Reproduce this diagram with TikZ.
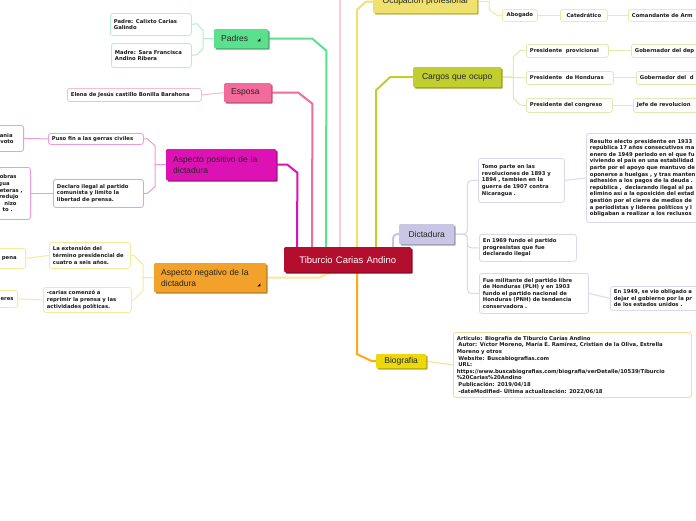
\documentclass[tikz,border=0pt]{standalone}
\usepackage{fontspec}
\usepackage{xcolor}
\usepackage{tikz}
\usetikzlibrary{shadows}

\newfontfamily\topicface{Liberation Sans}
\newfontfamily\leafface{DejaVu Sans}
\newcommand\topicfont{\topicface\fontsize{8.5}{11}\selectfont}
\newcommand\rootfont{\topicface\fontsize{9.5}{12}\selectfont}
\newcommand\leaffont{\leafface\bfseries\fontsize{5.3}{6.6}\selectfont\hyphenpenalty=10000 \exhyphenpenalty=10000 }

\definecolor{cRoot}{HTML}{B40E2E}
\definecolor{cGreen}{HTML}{5BE08D}
\definecolor{cGreenL}{HTML}{B4F0CC}
\definecolor{cPink}{HTML}{F26B9C}
\definecolor{cPinkL}{HTML}{F8BCD2}
\definecolor{cMag}{HTML}{DC12B4}
\definecolor{cMagL}{HTML}{EE9ADC}
\definecolor{cRose}{HTML}{F9CCE0}
\definecolor{cOrange}{HTML}{F2A12B}
\definecolor{cOrangeL}{HTML}{F6DC9A}
\definecolor{cAmber}{HTML}{FFA81E}
\definecolor{cYellow}{HTML}{F0E16E}
\definecolor{cYellowL}{HTML}{F6E99A}
\definecolor{cOlive}{HTML}{C2CD30}
\definecolor{cOliveL}{HTML}{E2E8AE}
\definecolor{cLav}{HTML}{C9C5E5}
\definecolor{cLavL}{HTML}{DAD8EC}
\definecolor{cGold}{HTML}{EBD90E}

\pgfdeclarelayer{bg}
\pgfsetlayers{bg,main}

\begin{document}
\begin{tikzpicture}[
  x=1pt, y=-1pt,
  topic/.style={fill=#1, anchor=north west, font=\topicfont, text=black!85, inner xsep=7pt, inner ysep=0pt, rounded corners=1pt,
    drop shadow={shadow xshift=1.5pt, shadow yshift=-1.5pt, opacity=1, fill=#1!80!black}},
  leaf/.style={draw=#1, fill=white, anchor=north west, align=left, font=\leaffont, text=black!90, inner xsep=3.5pt, inner ysep=1pt, rounded corners=2.5pt, line width=0.8pt},
  trunk/.style={draw=#1, line width=2pt},
  twig/.style={draw=#1, line width=1pt}
]
\useasboundingbox (0,0) rectangle (696,520);
\clip (0,0) rectangle (696,520);

% centre and main topics
\node[topic=cRoot, text=white, font=\rootfont, text width=113pt, align=center, minimum height=25pt] (root) at (284,247) {Tiburcio Carias Andino};
\node[topic=cGreen, text width=40pt, align=left, minimum height=19pt] (padres) at (214,29) {Padres};
\node[topic=cPink, text width=33pt, align=left, minimum height=19pt] (esposa) at (224,83) {Esposa};
\node[topic=cMag, text width=96pt, align=left, minimum height=31pt] (positivo) at (166,149) {Aspecto positivo de la\\dictadura};
\node[topic=cOrange, text width=98pt, align=left, minimum height=29pt] (negativo) at (154,263) {Aspecto negativo de la\\dictadura};
\node[topic=cYellow, text width=90pt, align=center, minimum height=23pt] (ocupacion) at (373,-10) {Ocupación profesional};
\node[topic=cOlive, text width=74pt, align=center, minimum height=20pt] (cargos) at (413,67) {Cargos que ocupo};
\node[topic=cLav, text width=41pt, align=center, minimum height=20pt] (dictadura) at (399,224) {Dictadura};
\node[topic=cGold, text width=36pt, align=center, minimum height=14pt] (biografia) at (376,354) {Biografia};
\coordinate (offtop) at (340,-5);

% small markers
\fill ([shift={(-11,-7)}]padres.south east) -- ++(3,0) -- ++(0,-3) -- cycle;
\fill ([shift={(-9,-6)}]negativo.south east) -- ++(3,0) -- ++(0,-3) -- cycle;

% Padres
\node[leaf=cGreenL, text width=74pt, minimum height=22pt] (padre) at (110,13) {Padre: Calixto Carias\\Galindo};
\node[leaf=cGreenL, text width=73pt, minimum height=24pt] (madre) at (111,43) {Madre: Sara Francisca\\Andino Ribera};

% Esposa
\node[leaf=cPinkL, text width=127pt, minimum height=13pt] (elena) at (67,88) {Elena de Jesús castillo Bonilla Barahona};

% Aspecto positivo
\node[leaf=cMagL, text width=88pt, minimum height=11pt] (guerras) at (48,133) {Puso fin a las gerras civiles};
\node[leaf=cMagL, text width=83pt, minimum height=28pt] (declaro) at (53,179) {Declaro ilegal al partido\\comunista y limito la\\libertad de prensa.};
\node[leaf=cMagL, anchor=north east, align=right, text width=60pt, inner xsep=10pt, minimum height=26pt] (voto) at (24,125) {ania\rule{1pt}{0pt}\\voto};
\node[leaf=cMagL, anchor=north east, align=right, text width=60pt, inner xsep=8pt, minimum height=52pt] (obras) at (31,167)
  {obras\rule{6pt}{0pt}\\gua\rule{13pt}{0pt}\\reteras ,\\redujo\rule{4pt}{0pt}\\nizo\rule{6pt}{0pt}\\to .\rule{10pt}{0pt}};

% Aspecto negativo
\node[leaf=cYellowL, text width=74pt, minimum height=26pt] (extension) at (49,242) {La extensión del\\término presidencial de\\cuatro a seis años.};
\node[leaf=cYellowL, text width=81pt, minimum height=25pt] (reprimir) at (43,287) {-carias comenzó a\\reprimir la prensa y las\\actividades políticas.};
\node[leaf=cYellowL, anchor=north east, align=right, text width=40pt, inner xsep=9pt, minimum height=20pt] (pena) at (26,248) {pena};
\node[leaf=cYellowL, anchor=north east, align=right, text width=40pt, inner xsep=4pt, minimum height=17pt] (eres) at (18,290) {eres};

% Ocupacion profesional
\node[leaf=cYellowL, text width=28pt, align=center, minimum height=12pt] (abogado) at (502,9) {Abogado};
\node[leaf=cYellowL, text width=40pt, align=center, minimum height=12pt] (catedratico) at (560,9) {Catedrático};
\node[leaf=cYellowL, text width=93pt, minimum height=12pt] (comandante) at (628,9) {Comandante de Arm};

% Cargos que ocupo
\node[leaf=cOliveL, text width=75pt, minimum height=13pt] (provisional) at (526,44) {Presidente~ provicional};
\node[leaf=cOliveL, text width=80pt, minimum height=13pt] (honduras) at (526,71) {Presidente~ de Honduras};
\node[leaf=cOliveL, text width=79pt, minimum height=14pt] (congreso) at (526,98) {Presidente del congreso};
\node[leaf=cOliveL, text width=93pt, minimum height=13pt] (gobdep) at (631,44) {Gobernador del dep};
\node[leaf=cOliveL, text width=93pt, minimum height=13pt] (gobd) at (636,71) {Gobernador del~ d};
\node[leaf=cOliveL, text width=93pt, minimum height=14pt] (jefe) at (633,98) {Jefe de revolucion};

% Dictadura
\node[leaf=cLavL, text width=79pt, minimum height=44pt] (revoluciones) at (478,158) {Tomo parte en las\\revoluciones de 1893 y\\1894 , tambien en la\\guerra de 1907 contra\\Nicaragua .};
\node[leaf=cLavL, text width=160pt, minimum height=89pt] (resulto) at (586,133)
  {Resulto electo presidente en 1933\\república 17 años consecutivos ma\\enero de 1949 periodo en el que fu\\viviendo el país en una estabilidad\\parte por el apoyo que mantuvo de\\oponerse a huelgas , y tras manten\\adhesión a los pagos de la deuda .\\república ,~ declarando ilegal al pa\\elimino así a la oposición del estad\\gestión por el cierre de medios de\\a periodistas y lideres políticos y l\\obligaban a realizar a los reclusos};
\node[leaf=cLavL, text width=90pt, minimum height=27pt] (progresistas) at (479,234) {En 1969 fundo el partido\\progresistas que fue\\declarado ilegal};
\node[leaf=cLavL, text width=102pt, minimum height=40pt] (militante) at (479,273) {Fue militante del partido libre\\de Honduras (PLH) y en 1903\\fundo el partido nacional de\\Honduras (PNH) de tendencia\\conservadora .};
\node[leaf=cLavL, text width=140pt, minimum height=24pt] (obligado) at (610,286) {En 1949, se vio obligado a\\dejar el gobierno por la pr\\de los estados unidos .};

% Biografia
\node[leaf=cOrangeL, text width=231pt, minimum height=65pt] (fuente) at (453,332)
  {Articulo: Biografía de Tiburcio Carías Andino\\
   \hspace*{1.5pt}Autor: Víctor Moreno, María E. Ramírez, Cristian de la Oliva, Estrella\\
   Moreno y otros\\
   \hspace*{1.5pt}Website: Buscabiografias.com\\
   \hspace*{1.5pt}URL:\\
   https://www.buscabiografias.com/biografia/verDetalle/10539/Tiburcio\\
   \%20Carias\%20Andino\\
   \hspace*{1.5pt}Publicación: 2019/04/18\\
   \hspace*{1.5pt}-dateModified- Última actualización: 2022/06/18};

\begin{pgfonlayer}{bg}
\fill[white] (0,0) rectangle (696,520);
% main branches
\draw[trunk=cMag] (positivo.east) -- ++(11,0) -- ++(10,8) -- (297,0 |- root.north);
\draw[trunk=cPink] (esposa.east) -- ++(27,0) -- ++(14,11) -- (312,0 |- root.north);
\draw[trunk=cGreen] (padres.east) -- ++(44,0) -- ++(14,12) -- (326,0 |- root.north);
\draw[trunk=cRose] (offtop) -- (340,0 |- root.north);
\draw[trunk=cYellow] (ocupacion.west) -- ++(-7,0) -- ++(-9,8) -- (357,0 |- root.north);
\draw[trunk=cOlive] (cargos.west) -- ++(-23,0) -- ++(-14,13) -- (376,0 |- root.north);
\draw[trunk=cLav, rounded corners=4pt] (393,0 |- root.north) |- (dictadura.west);
\draw[trunk=cAmber] (biografia.west) -- ++(-4,0) -- ++(-15,-7) -- (357,0 |- root.south);
\draw[trunk=cYellowL] (negativo.east) -- (319,0 |- negativo.east) -- (331,0 |- root.south);

% twigs
\draw[twig=cGreenL] (padres.west) -- ++(-11,0) -- ++(0,-8) -- ++(-6,-7) -- (padre.east);
\draw[twig=cGreenL] (padres.west) -- ++(-11,0) -- ++(0,10) -- ++(-6,6) -- (madre.east);
\draw[twig=cPinkL] (esposa.west) -- (elena.east);
\draw[twig=cMagL] (positivo.west) -- ++(-11,0) -- ++(0,-19) -- ++(-8,-7) -- (guerras.east);
\draw[twig=cMagL] (positivo.west) -- ++(-11,0) -- ++(0,22) -- ++(-8,7) -- (declaro.east);
\draw[twig=cMagL] (guerras.west) -- (voto.east);
\draw[twig=cMagL] (declaro.west) -- (obras.east);
\draw[twig=cYellowL] (negativo.west) -- ++(-11,0) -- ++(0,-13) -- ++(-9,-9) -- (extension.east);
\draw[twig=cYellowL] (negativo.west) -- ++(-11,0) -- ++(0,13) -- ++(-9,9) -- (reprimir.east);
\draw[twig=cYellowL] (extension.west) -- (pena.east);
\draw[twig=cYellowL] (reprimir.west) -- (eres.east);
\draw[twig=cYellowL] (ocupacion.east) -- ++(12,0) -- ++(0,8) -- ++(8,6) -- (abogado.west);
\draw[twig=cYellowL] (abogado.east) -- (catedratico.west);
\draw[twig=cYellowL] (catedratico.east) -- (comandante.west);
\draw[twig=cOliveL] (cargos.east) -- ++(12,0) -- ++(0,-20) -- ++(7,-7) -- (provisional.west);
\draw[twig=cOliveL] (cargos.east) -- (honduras.west);
\draw[twig=cOliveL] (cargos.east) -- ++(12,0) -- ++(0,21) -- ++(7,7) -- (congreso.west);
\draw[twig=cOliveL] (provisional.east) -- (gobdep.west);
\draw[twig=cOliveL] (honduras.east) -- (gobd.west);
\draw[twig=cOliveL] (congreso.east) -- (jefe.west);
\draw[twig=cLavL, rounded corners=4pt] (dictadura.east) -- ++(13,0) |- (revoluciones.west);
\draw[twig=cLavL, rounded corners=4pt] (dictadura.east) -- ++(13,0) |- (progresistas.west);
\draw[twig=cLavL, rounded corners=4pt] (dictadura.east) -- ++(13,0) |- (militante.west);
\draw[twig=cLavL] (revoluciones.east) -- (resulto.west);
\draw[twig=cLavL] (militante.east) -- (obligado.west);
\draw[twig=cOrangeL] (biografia.east) -- (fuente.west);
\end{pgfonlayer}
\end{tikzpicture}
\end{document}
